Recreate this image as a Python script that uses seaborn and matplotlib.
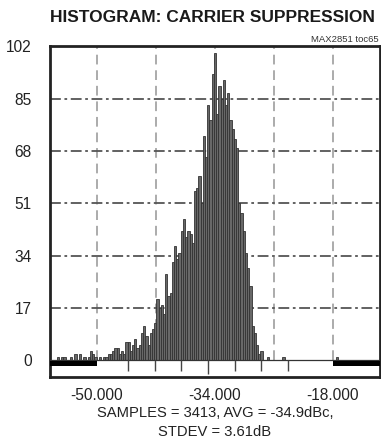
import numpy as np
import pandas as pd
import matplotlib
matplotlib.use('Agg')
import matplotlib.pyplot as plt
import seaborn as sns

# histogram bins (bin width 0.3 dBc, first bin starts at -56.0)
bin_start = -56.0
bin_width = 0.3
counts = [
    0, 0, 1, 0, 1, 1, 0, 0, 1, 0,
    2, 0, 2, 0, 1, 0, 1, 3, 2, 1,
    0, 1, 0, 1, 1, 2, 2, 3, 4, 4,
    2, 3, 2, 6, 6, 3, 5, 7, 4, 5,
    9, 11, 8, 5, 9, 10, 12, 20, 17, 18,
    15, 28, 21, 22, 32, 37, 33, 35, 42, 46,
    40, 42, 41, 38, 55, 56, 60, 51, 73, 66,
    83, 78, 93, 100, 80, 89, 85, 91, 83, 87,
    78, 75, 72, 69, 51, 48, 42, 35, 30, 24,
    11, 9, 5, 2, 3, 0, 0, 1, 0, 0,
    0, 0, 0, 0, 1, 0, 0, 0, 0, 0,
    0, 0, 0, 0, 0, 0, 0, 0, 0, 0,
    0, 0, 0, 0, 0, 0, 0, 0, 1,
]

samples = 3413
avg = -34.9
stdev = 3.61

y_ticks = [0, 17, 34, 51, 68, 85, 102]
x_grid = [-50, -42, -34, -26, -18]
x_ticks = [-50, -34, -18]
x_labels = ['-50.000', '-34.000', '-18.000']

title = 'HISTOGRAM: CARRIER SUPPRESSION'
tag = 'MAX2851 toc65'


def main():
    sns.set_style('white')
    plt.rcParams['font.family'] = ['Liberation Sans', 'DejaVu Sans']

    n = len(counts)
    edges = bin_start + bin_width * np.arange(n + 1)
    df = pd.DataFrame({
        'center': bin_start + bin_width * (np.arange(n) + 0.5),
        'count': counts,
    })

    fig = plt.figure(figsize=(3.81, 4.46), dpi=100)
    ax = fig.add_axes([0.131, 0.155, 0.866, 0.741])
    xmin, xmax = -56.33, -11.6
    ymin, ymax = -5.4, 102

    # grid: dashed light verticals, dash-dot dark horizontals
    ax.vlines(x_grid, 0, ymax, colors='#ababab', linewidth=1.4,
              linestyles=(0, (5, 3)), zorder=1)
    ax.hlines(y_ticks[1:-1], xmin, xmax, colors='#555555', linewidth=1.3,
              linestyles=(0, (6, 2, 1.5, 2)), zorder=1)

    sns.histplot(data=df, x='center', weights='count', bins=list(edges), ax=ax,
                 color='#686868', edgecolor='#333333', linewidth=0.6,
                 alpha=1, zorder=2)

    # zero line and out-of-range markers
    ax.axhline(0, color='#333333', linewidth=0.9, zorder=3)
    ax.fill_between([xmin, x_grid[0]], -1.8, -0.1, color='black', zorder=3, linewidth=0)
    ax.fill_between([x_grid[-1], xmax], -1.8, -0.1, color='black', zorder=3, linewidth=0)

    # sigma ticks in the strip below zero
    for k in range(-3, 4):
        low = -4.6 if k == 0 else -3.6
        ax.vlines(avg + k * stdev, low, 0, colors='#444444', linewidth=1.0, zorder=3)

    ax.set_xlim(xmin, xmax)
    ax.set_ylim(ymin, ymax)
    ax.set_yticks(y_ticks)
    ax.set_yticklabels([str(v) for v in y_ticks])
    ax.set_xticks(x_ticks)
    ax.set_xticklabels(x_labels)
    ax.set_xlabel('')
    ax.set_ylabel('')
    ax.tick_params(axis='y', length=0, pad=13, labelsize=11.2, colors='#222222')
    ax.tick_params(axis='x', length=0, pad=8, labelsize=11.2, colors='#222222')
    for s in ax.spines.values():
        s.set_visible(True)
        s.set_linewidth(2)
        s.set_color('#222222')

    fig.text(212 / 381, 1 - 18 / 446, title, ha='center', va='center',
             fontsize=12.5, fontweight='bold', color='#1a1a1a')
    fig.text(379 / 381, 1 - 39 / 446, tag, ha='right', va='center',
             fontsize=6.8, color='#333333')
    fig.text(215 / 381, 1 - 413 / 446,
             'SAMPLES = %d, AVG = %.1fdBc,' % (samples, avg),
             ha='center', va='center', fontsize=10.6, color='#222222')
    fig.text(215 / 381, 1 - 432 / 446, 'STDEV = %.2fdB' % stdev,
             ha='center', va='center', fontsize=10.6, color='#222222')

    fig.savefig('out.png', dpi=100)
    plt.close(fig)


if __name__ == '__main__':
    main()
